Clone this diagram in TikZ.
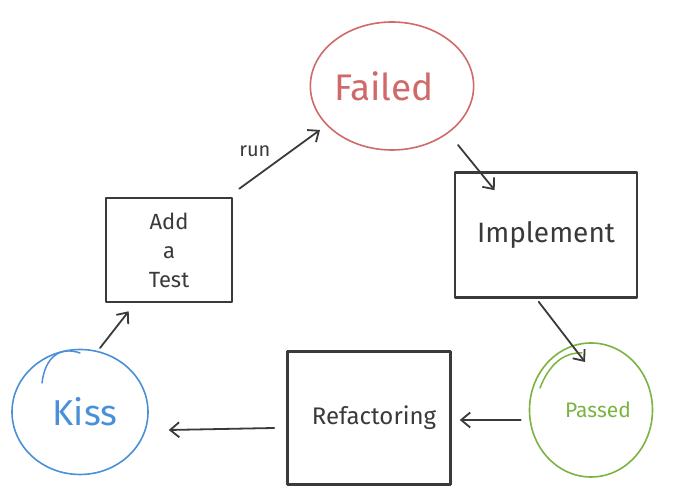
\documentclass[tikz,border=0pt]{standalone}
\usepackage{fontspec}
\setmainfont{Fira Sans}
\usetikzlibrary{arrows.meta,shapes.geometric}
\definecolor{ink}{HTML}{3A3A3A}
\definecolor{failred}{HTML}{D06A6A}
\definecolor{kissblue}{HTML}{4A90D9}
\definecolor{passgreen}{HTML}{7CB342}
\begin{document}
\begin{tikzpicture}[x=1pt,y=1pt,
  box/.style={draw=ink, line width=2.6pt, rectangle, line join=round,
              text=ink, align=center, inner sep=0pt},
  blob/.style={ellipse, line width=1.6pt, inner sep=0pt},
  arr/.style={draw=ink, line width=1.8pt, line cap=round, line join=round,
              -{Straight Barb[length=9pt,width=15pt,line width=1.8pt]}},
]
\useasboundingbox (0,0) rectangle (673,492);
\fill[white] (0,0) rectangle (673,492);

% states of the cycle
\node[blob, draw=failred, text=failred, minimum width=156, minimum height=128,
      font=\fontsize{37}{40}\selectfont] (fail) at (392,406) {Failed\hspace*{16pt}};
\node[box, minimum width=182, minimum height=125,
      font=\fontsize{28}{32}\selectfont] (imp) at (546,257) {Implement};
\node[blob, draw=passgreen, text=passgreen, minimum width=123, minimum height=134,
      font=\fontsize{21}{24}\selectfont] (pass) at (591,82) {\hspace*{14pt}Passed};
\node[box, minimum width=163, minimum height=133,
      font=\fontsize{24}{28}\selectfont] (ref) at (369,74) {\hspace*{10pt}Refactoring};
\node[blob, draw=kissblue, text=kissblue, minimum width=136, minimum height=125,
      font=\fontsize{36}{40}\selectfont] (kiss) at (80,80) {\hspace*{10pt}Kiss};
\node[box, minimum width=126, minimum height=104,
      font=\fontsize{22}{29}\selectfont] (add) at (169,242) {Add\\a\\Test};

% overlapping pen strokes where the circles were started
\draw[kissblue, line width=1.5pt, line cap=round]
  (kiss.center) ++(-38,29) .. controls +(3,26) and +(-20,7) .. ++(38,30);
\draw[passgreen, line width=1.5pt, line cap=round]
  (pass.center) ++(-51,22) .. controls +(8,21) and +(-20,1) .. ++(42,35);

% transitions
\draw[arr] ([shift={(6,8)}]add.north east)
  -- node[pos=0.45, above left=1pt, text=ink, font=\fontsize{20}{22}\selectfont] (runlbl) {run}
     ([shift={(-72,-44)}]fail.center);
\draw[arr] ([shift={(66,-59)}]fail.center) -- ([shift={(41,-19)}]imp.north west);
\draw[arr] ([shift={(85,-3)}]imp.south west) -- ([shift={(-6,48)}]pass.center);
\draw[arr] ([shift={(-8,-10)}]pass.west) -- ([shift={(8,-2)}]ref.east);
\draw[arr] ([shift={(-12,-10)}]ref.west) -- ([shift={(20,-18)}]kiss.east);
\draw[arr] ([shift={(20,64)}]kiss.center) -- ([shift={(24,-8)}]add.south west);
\end{tikzpicture}
\end{document}
